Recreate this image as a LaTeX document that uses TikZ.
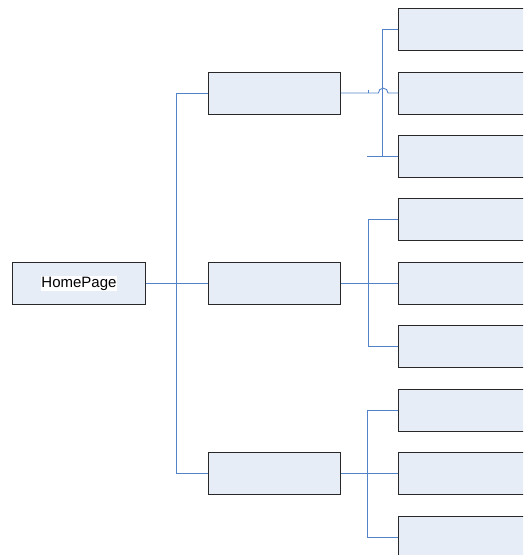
\documentclass[tikz,border=0pt]{standalone}
\usepackage{fontspec}
\setmainfont{Liberation Sans}
\usetikzlibrary{calc}
\definecolor{boxfill}{RGB}{230,237,247}
\definecolor{boxline}{RGB}{40,40,40}
\definecolor{linkblue}{RGB}{82,130,200}
\tikzset{
  page/.style={draw=boxline, fill=boxfill, line width=0.9pt, minimum width=132pt, minimum height=42pt, inner sep=0pt, anchor=north west},
  leaf/.style={page, minimum width=140pt},
  link/.style={draw=linkblue, line width=0.9pt},
}
\begin{document}
\begin{tikzpicture}[x=1pt,y=-1pt]
  \useasboundingbox (0,0) rectangle (523,555);
  \clip (0,0) rectangle (523,555);
  % root and second level
  \node[page, minimum width=133pt] (home) at (12,262) {};
  \node[fill=white, inner sep=0.5pt, font=\fontsize{15}{18}\selectfont] (homelabel) at (home.center) {HomePage};
  \node[page] (s1) at (208,71.5) {};
  \node[page] (s2) at (208,262) {};
  \node[page] (s3) at (208,452) {};
  % third level
  \node[leaf] (a1) at (398,8) {};
  \node[leaf] (a2) at (398,71.5) {};
  \node[leaf] (a3) at (398,135) {};
  \node[leaf] (b1) at (398,198) {};
  \node[leaf] (b2) at (398,262) {};
  \node[leaf] (b3) at (398,325) {};
  \node[leaf] (c1) at (398,389) {};
  \node[leaf] (c2) at (398,452) {};
  \node[leaf] (c3) at (398,516) {};
  % root to second level
  \draw[link] (home.east) -- (s2.west);
  \draw[link] (s1.west) -- ++(-32,0) |- (s3.west);
  % first group, with a line jump over the trunk
  \draw[link] (s1.east) -- ++(37.5,0) arc[start angle=180, end angle=360, radius=4.8] -- (a2.west);
  \draw[link] (a1.west) -- ++(-15.5,0) |- (a3.west);
  \draw[link] (a3.west) -- ++(-31.5,0);
  \draw[link, line width=0.6pt] ($(s1.east)+(27,-3)$) -- ++(0,3);
  % second group
  \draw[link] (s2.east) -- (b2.west);
  \draw[link] (b1.west) -- ++(-30,0) |- (b3.west);
  % third group
  \draw[link] (s3.east) -- (c2.west);
  \draw[link] (c1.west) -- ++(-31,0) |- (c3.west);
\end{tikzpicture}
\end{document}
